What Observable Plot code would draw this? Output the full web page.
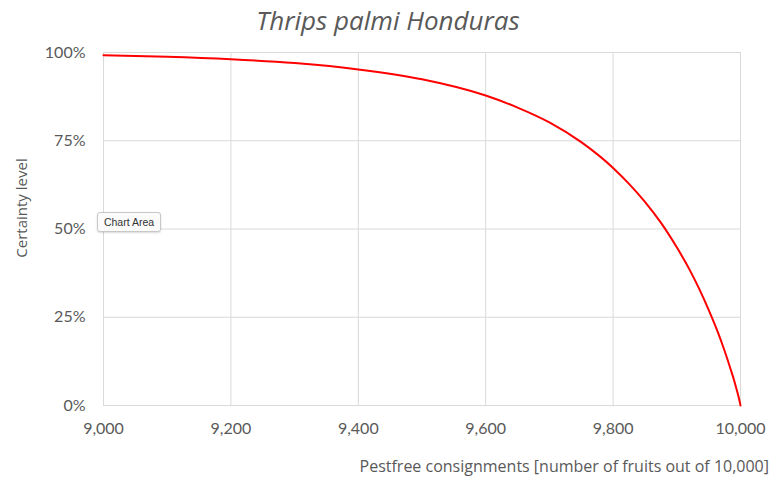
<!DOCTYPE html>
<html>
<head>
<meta charset="utf-8">
<script src="https://cdn.jsdelivr.net/npm/d3@7"></script>
<script src="https://cdn.jsdelivr.net/npm/@observablehq/plot@0.6"></script>
<style>
  html, body { margin: 0; padding: 0; background: #fff; }
  #wrap { position: relative; width: 771px; height: 481px; overflow: hidden; }
  #title { position: absolute; left: 0; width: 776px; top: 2px; text-align: center;
    font-family: "Open Sans", sans-serif; font-style: italic; font-size: 26px; color: #595959; }
  #xlabel { position: absolute; right: 2px; top: 455px; font-family: "Open Sans", sans-serif;
    font-size: 16px; color: #595959; white-space: nowrap; }
  #ylabel { position: absolute; left: 21px; top: 208px; font-family: "Open Sans", sans-serif;
    font-size: 15px; color: #595959; white-space: nowrap; transform: translate(-50%, -50%) rotate(-90deg); }
  #tip { position: absolute; left: 97px; top: 212px; width: 64px; height: 20px; box-sizing: border-box;
    border: 1px solid #c8c8c8; border-radius: 3px; background: #fbfbfb; box-shadow: 0 1px 2px rgba(0,0,0,0.15);
    font-family: "Liberation Sans", Arial, sans-serif; font-size: 10.5px; color: #333; line-height: 18px; text-align: center; }
  #chart { position: absolute; left: 0; top: 0; }
</style>
</head>
<body>
<div id="wrap">
  <div id="chart"></div>
  <div id="title">Thrips palmi Honduras</div>
  <div id="ylabel">Certainty level</div>
  <div id="xlabel">Pestfree consignments [number of fruits out of 10,000]</div>
  <div id="tip">Chart Area</div>
</div>
<script>
const consignments = [9000, 9100, 9200, 9300, 9400, 9500, 9600, 9650, 9700, 9750, 9800, 9825, 9850, 9875, 9900, 9920, 9935, 9950, 9965, 9975, 9985, 9990, 9995, 9998, 10000];
const certainty = [99.2, 98.8, 98.1, 97.0, 95.2, 92.4, 87.8, 84.4, 80.2, 74.6, 67.3, 62.8, 57.7, 51.8, 44.8, 38.5, 33.1, 27.1, 20.5, 15.5, 10.0, 7.1, 3.8, 1.7, 0];
const xTicks = [9000, 9200, 9400, 9600, 9800, 10000];
const yTicks = [0, 25, 50, 75, 100];

const data = consignments.map((c, i) => ({x: c, y: certainty[i]}));

const chart = Plot.plot({
  width: 771,
  height: 481,
  marginLeft: 103,
  marginRight: 31,
  marginTop: 52,
  marginBottom: 76,
  style: {fontFamily: "Lato, sans-serif", fontSize: "16px", color: "#595959", background: "transparent"},
  x: {domain: [9000, 10000], ticks: xTicks, tickFormat: d3.format(",")},
  y: {domain: [0, 100], ticks: yTicks, tickFormat: d => d + "%"},
  marks: [
    Plot.gridX(xTicks, {stroke: "#d9d9d9", strokeOpacity: 1, strokeWidth: 1}),
    Plot.gridY(yTicks, {stroke: "#d9d9d9", strokeOpacity: 1, strokeWidth: 1}),
    Plot.axisX({ticks: xTicks, tickSize: 0, tickPadding: 17, label: null, tickFormat: d3.format(",")}),
    Plot.axisY({ticks: yTicks, tickSize: 0, tickPadding: 18, label: null, tickFormat: d => d + "%"}),
    Plot.line(data, {x: "x", y: "y", stroke: "#ff0000", strokeWidth: 2, curve: "monotone-x"})
  ]
});
document.getElementById("chart").appendChild(chart);
</script>
</body>
</html>
